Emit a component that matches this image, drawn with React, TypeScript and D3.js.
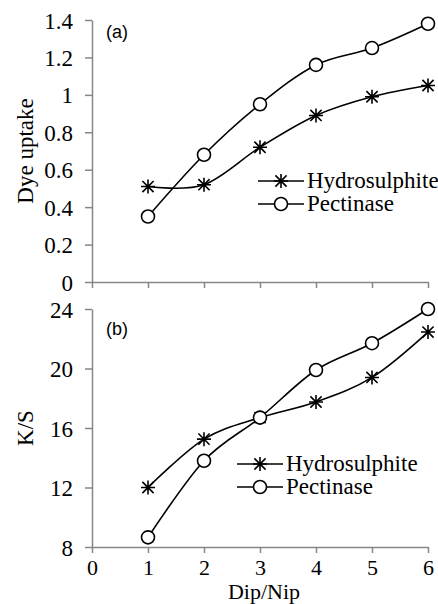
import React, { useEffect, useRef } from "react";
import * as d3 from "d3";

// dip/nip count on the x axis
const dips = [1, 2, 3, 4, 5, 6];

// (a) dye uptake
const dyeHydro = [0.51, 0.52, 0.72, 0.89, 0.99, 1.05];
const dyePect = [0.35, 0.68, 0.95, 1.16, 1.25, 1.38];

// (b) K/S
const ksHydro = [12.0, 15.25, 16.7, 17.75, 19.4, 22.45];
const ksPect = [8.65, 13.8, 16.7, 19.9, 21.7, 24.0];

const dyeTicks = [0, 0.2, 0.4, 0.6, 0.8, 1, 1.2, 1.4];
const ksTicks = [8, 12, 16, 20, 24];
const xTicks = [0, 1, 2, 3, 4, 5, 6];

const seriesNames = ["Hydrosulphite", "Pectinase"];

const AXIS = "#878787";
const SERIF = "Liberation Serif, Times New Roman, serif";
const FS = "23px";

export default function App() {
  const ref = useRef<SVGSVGElement>(null);

  useEffect(() => {
    const svg = d3.select(ref.current);
    svg.selectAll("*").remove();

    const x = d3.scaleLinear().domain([0, 6]).range([92, 428]);

    // star marker: asterisk made of a cross and an x
    const star = (g: any, cx: number, cy: number) => {
      const r = 7;
      const d = r * 0.8;
      g.append("path")
        .attr(
          "d",
          `M${cx},${cy - r}L${cx},${cy + r}M${cx - d},${cy - d}L${cx + d},${cy + d}M${cx - d},${cy + d}L${cx + d},${cy - d}M${cx - r},${cy}L${cx + r},${cy}`
        )
        .attr("stroke", "#000")
        .attr("stroke-width", 1.6)
        .attr("fill", "none");
    };
    const circ = (g: any, cx: number, cy: number) => {
      g.append("circle")
        .attr("cx", cx)
        .attr("cy", cy)
        .attr("r", 6.5)
        .attr("fill", "#fff")
        .attr("stroke", "#000")
        .attr("stroke-width", 1.6);
    };

    const panel = (
      y: d3.ScaleLinear<number, number>,
      ticks: number[],
      hydro: number[],
      pect: number[],
      yLabel: string,
      tag: string,
      tagY: number,
      legX: number,
      legY: number,
      showX: boolean
    ) => {
      const g = svg.append("g");
      const [y0, y1] = y.range();

      // axes
      const yAxis = g
        .append("g")
        .attr("transform", `translate(${x(0)},0)`)
        .call(d3.axisLeft(y).tickValues(ticks).tickSize(7).tickSizeOuter(0).tickPadding(12).tickFormat((d: any) => `${d}`));
      const xAxis = g
        .append("g")
        .attr("transform", `translate(0,${y0})`)
        .call(d3.axisBottom(x).tickValues(xTicks).tickSize(6).tickSizeOuter(0).tickPadding(6).tickFormat((d: any) => (showX ? `${d}` : "")));
      [yAxis, xAxis].forEach((a) => {
        a.attr("font-family", SERIF).attr("font-size", FS);
        a.select(".domain").attr("stroke", AXIS).attr("stroke-width", 1.5);
        a.selectAll(".tick line").attr("stroke", AXIS).attr("stroke-width", 1.5);
        a.selectAll("text").attr("fill", "#000");
      });
      xAxis.attr("font-size", "22px");
      yAxis.selectAll("text").attr("dy", "0.35em");

      // y title
      g.append("text")
        .attr("transform", `translate(33,${(y0 + y1) / 2}) rotate(-90)`)
        .attr("text-anchor", "middle")
        .attr("font-family", SERIF)
        .attr("font-size", FS)
        .text(yLabel);

      g.append("text")
        .attr("x", 106)
        .attr("y", tagY)
        .attr("font-family", "Liberation Sans, Arial, sans-serif")
        .attr("font-size", "18px")
        .text(tag);

      const line = d3
        .line<number>()
        .x((_, i) => x(dips[i]))
        .y((v) => y(v))
        .curve(d3.curveCardinal.tension(0));

      [hydro, pect].forEach((vals) => {
        g.append("path")
          .attr("d", line(vals))
          .attr("fill", "none")
          .attr("stroke", "#000")
          .attr("stroke-width", 1.6);
      });
      hydro.forEach((v, i) => star(g, x(dips[i]), y(v)));
      pect.forEach((v, i) => circ(g, x(dips[i]), y(v)));

      // legend
      seriesNames.forEach((name, i) => {
        const ly = legY + i * 23;
        g.append("line")
          .attr("x1", legX)
          .attr("x2", legX + 46)
          .attr("y1", ly)
          .attr("y2", ly)
          .attr("stroke", "#000")
          .attr("stroke-width", 1.6);
        if (i === 0) star(g, legX + 23, ly);
        else circ(g, legX + 23, ly);
        g.append("text")
          .attr("x", legX + 49)
          .attr("y", ly)
          .attr("dy", "0.32em")
          .attr("font-family", SERIF)
          .attr("font-size", FS)
          .text(name);
      });
    };

    const yTop = d3.scaleLinear().domain([0, 1.4]).range([282, 20]);
    const yBot = d3.scaleLinear().domain([8, 24]).range([547, 309]);

    panel(yTop, dyeTicks, dyeHydro, dyePect, "Dye uptake", "(a)", 38, 258, 181, false);
    panel(yBot, ksTicks, ksHydro, ksPect, "K/S", "(b)", 335, 237, 464, true);

    svg
      .append("text")
      .attr("x", (x(0) + x(6)) / 2 + 4)
      .attr("y", 599)
      .attr("text-anchor", "middle")
      .attr("font-family", SERIF)
      .attr("font-size", "22px")
      .text("Dip/Nip");
  }, []);

  return (
    <svg
      ref={ref}
      width={438}
      height={604}
      style={{ position: "absolute", left: 0, top: 0, background: "#fff" }}
    />
  );
}
